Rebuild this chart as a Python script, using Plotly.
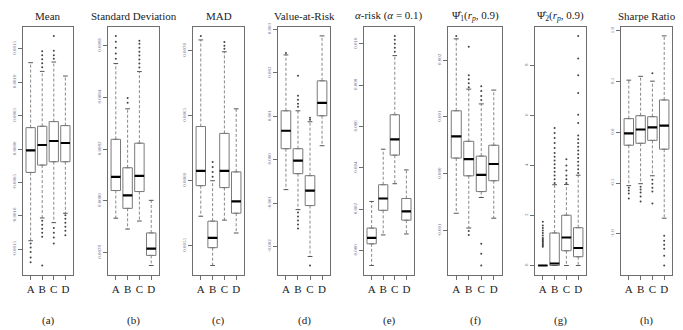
import plotly.graph_objects as go

cats = ["A", "B", "C", "D"]
titles = ["Mean", "Standard Deviation", "MAD", "Value-at-Risk",
          "<i>α</i>-risk (<i>α</i> = 0.1)",
          "Ψ̂<sub>1</sub>(<i>r<sub>p</sub></i>, 0.9)",
          "Ψ̂<sub>2</sub>(<i>r<sub>p</sub></i>, 0.9)",
          "Sharpe Ratio"]
sub_labels = ["(a)", "(b)", "(c)", "(d)", "(e)", "(f)", "(g)", "(h)"]

# ---- (a) Mean
mean_lo = [-0.00137, -0.00103, -0.00110, -0.00096]
mean_q1 = [-0.00035, -0.00024, -0.00019, -0.00019]
mean_med = [-0.00002, 0.00006, 0.00012, 0.00009]
mean_q3 = [0.00032, 0.00034, 0.00041, 0.00035]
mean_hi = [0.00129, 0.00116, 0.00130, 0.00109]
mean_out = [[-0.00141, -0.00147, -0.00154, -0.00162, -0.00169],
            [0.00146, 0.00140, 0.00134, 0.00128, 0.00122,
             -0.00107, -0.00113, -0.00119, -0.00125, -0.00131, -0.00174],
            [0.00169, 0.00147, 0.00140, 0.00135,
             -0.00118, -0.00125, -0.00132, -0.00141],
            [-0.00099, -0.00104, -0.00110, -0.00116, -0.00122, -0.00129]]
mean_ticks = [-0.0015, -0.0010, -0.0005, 0.0, 0.0005, 0.0010, 0.0015]
mean_ticklabels = ["-0.0015", "-0.0010", "-0.0005", "0.0000", "0.0005", "0.0010", "0.0015"]

# ---- (b) Standard Deviation
sd_lo = [0.007933, 0.007891, 0.007922, 0.007750]
sd_q1 = [0.008040, 0.007971, 0.008036, 0.007789]
sd_med = [0.008093, 0.008021, 0.008097, 0.007815]
sd_q3 = [0.008238, 0.008128, 0.008223, 0.007876]
sd_hi = [0.008531, 0.008356, 0.008500, 0.008002]
sd_out = [[0.008638, 0.008615, 0.008592, 0.008570, 0.008550],
          [0.008398, 0.008379],
          [0.008619, 0.008608, 0.008592, 0.008577, 0.008562, 0.008547, 0.008531, 0.008516],
          []]
sd_ticks = [0.0078, 0.0080, 0.0082, 0.0084, 0.0086]
sd_ticklabels = ["0.0078", "0.0080", "0.0082", "0.0084", "0.0086"]

# ---- (c) MAD
mad_lo = [0.005727, 0.005348, 0.005697, 0.005598]
mad_q1 = [0.005962, 0.005485, 0.005947, 0.005750]
mad_med = [0.006076, 0.005561, 0.006076, 0.005841]
mad_q3 = [0.006417, 0.005689, 0.006364, 0.006068]
mad_hi = [0.007083, 0.006000, 0.006992, 0.006553]
mad_out = [[0.007114],
           [0.006144, 0.006106, 0.006068, 0.006030],
           [0.007068, 0.007038, 0.007015],
           []]
mad_ticks = [0.0055, 0.0060, 0.0065, 0.0070]
mad_ticklabels = ["0.0055", "0.0060", "0.0065", "0.0070"]

# ---- (d) Value-at-Risk
var_lo = [-0.00069, -0.00115, -0.00223, 0.000322]
var_q1 = [0.000253, -0.000322, -0.001057, 0.001012]
var_med = [0.000667, -0.000023, -0.000713, 0.00131]
var_q3 = [0.001126, 0.000253, -0.000368, 0.001816]
var_hi = [0.002414, 0.001126, 0.000874, 0.002851]
var_out = [[0.00246],
           [0.001471, 0.00138, 0.001287, 0.001218, 0.001931,
            -0.001218, -0.00131, -0.001402, -0.001494, -0.001586],
           [0.000966, 0.00092, -0.002437],
           []]
var_ticks = [-0.002, -0.001, 0.0, 0.001, 0.002, 0.003]
var_ticklabels = ["-0.002", "-0.001", "0.000", "0.001", "0.002", "0.003"]

# ---- (e) alpha-risk
ar_lo = [-0.000714, 0.000762, 0.003238, 0.00081]
ar_q1 = [0.000333, 0.001952, 0.004619, 0.001476]
ar_med = [0.000619, 0.002524, 0.005381, 0.001905]
ar_q3 = [0.001095, 0.00319, 0.006572, 0.002524]
ar_hi = [0.002381, 0.004905, 0.009429, 0.003905]
ar_out = [[], [],
          [0.010381, 0.01019, 0.0100, 0.00981, 0.009619],
          []]
ar_ticks = [0.0, 0.002, 0.004, 0.006, 0.008, 0.010]
ar_ticklabels = ["0.000", "0.002", "0.004", "0.006", "0.008", "0.010"]

# ---- (f) Psi1
p1_lo = [-0.000693, -0.000953, -0.000416, -0.00078]
p1_q1 = [0.000277, -0.000035, -0.000312, -0.000121]
p1_med = [0.000659, 0.00026, -0.000017, 0.000173]
p1_q3 = [0.001109, 0.000572, 0.000312, 0.000503]
p1_hi = [0.002374, 0.00149, 0.00123, 0.001473]
p1_out = [[0.002426],
          [0.002236, 0.001733, 0.001664, 0.001594, 0.001525, -0.001005, -0.001074],
          [0.001542, 0.001456, 0.001369, 0.0013, -0.00123, -0.001404, -0.001612],
          []]
p1_ticks = [-0.001, 0.0, 0.001, 0.002]
p1_ticklabels = ["-0.001", "0.000", "0.001", "0.002"]

# ---- (g) Psi2
p2_lo = [0.0, 0.0, 0.0, 0.0]
p2_q1 = [0.0, 0.0, 0.59, 0.35]
p2_med = [0.0, 0.08, 1.12, 0.70]
p2_q3 = [0.0, 1.30, 2.01, 1.51]
p2_hi = [0.0, 3.23, 3.24, 3.61]
p2_out = [[0.75, 0.8, 0.85, 0.9, 0.95, 1.0, 1.05, 1.1, 1.2, 1.3, 1.4, 1.5, 1.6, 1.75],
          [3.3, 3.45, 3.6, 3.75, 3.9, 4.05, 4.2, 4.35, 4.5, 4.7, 4.9, 5.1, 5.3, 5.5],
          [3.3, 3.45, 3.6, 3.8, 4.0, 4.25],
          [3.7, 3.85, 4.0, 4.15, 4.3, 4.45, 4.6, 4.75, 4.9, 5.05, 5.2, 5.7,
           6.03, 6.9, 7.61, 8.28, 9.18]]
p2_ticks = [0, 2, 4, 6, 8]
p2_ticklabels = ["0", "2", "4", "6", "8"]

# ---- (h) Sharpe Ratio
sr_lo = [-0.524, -0.505, -0.427, -0.845]
sr_q1 = [-0.126, -0.107, -0.078, -0.165]
sr_med = [-0.010, 0.029, 0.049, 0.068]
sr_q3 = [0.136, 0.165, 0.155, 0.320]
sr_hi = [0.515, 0.553, 0.505, 0.951]
sr_out = [[-0.544, -0.573, -0.602, -0.65],
          [-0.534, -0.563, -0.592, -0.631, -0.68],
          [0.583, -0.466, -0.505, -0.544, -0.583, -0.699],
          [-1.019, -1.068, -1.107, -1.146, -1.214, -1.311]]
sr_ticks = [-1.0, -0.5, 0.0, 0.5, 1.0]
sr_ticklabels = ["-1.0", "-0.5", "0.0", "0.5", "1.0"]

panels = [
    (mean_lo, mean_q1, mean_med, mean_q3, mean_hi, mean_out, mean_ticks, mean_ticklabels),
    (sd_lo, sd_q1, sd_med, sd_q3, sd_hi, sd_out, sd_ticks, sd_ticklabels),
    (mad_lo, mad_q1, mad_med, mad_q3, mad_hi, mad_out, mad_ticks, mad_ticklabels),
    (var_lo, var_q1, var_med, var_q3, var_hi, var_out, var_ticks, var_ticklabels),
    (ar_lo, ar_q1, ar_med, ar_q3, ar_hi, ar_out, ar_ticks, ar_ticklabels),
    (p1_lo, p1_q1, p1_med, p1_q3, p1_hi, p1_out, p1_ticks, p1_ticklabels),
    (p2_lo, p2_q1, p2_med, p2_q3, p2_hi, p2_out, p2_ticks, p2_ticklabels),
    (sr_lo, sr_q1, sr_med, sr_q3, sr_hi, sr_out, sr_ticks, sr_ticklabels),
]

W, H = 683, 330
x_px = [(23, 73), (108, 159), (193, 244), (278, 330),
        (364, 414), (448, 502), (535, 586), (621, 672)]
y_top, y_bot = 23, 274

FRAME = "#6e6e6e"
BOXC = "#7a7a7a"
SERIF = "Liberation Serif, Times New Roman, serif"

fig = go.Figure()
pos = [1, 2, 3, 4]
hw = 0.4   # half box width
sw = 0.2   # half staple width

for i, (lo, q1, med, q3, hi, outs, tv, tt) in enumerate(panels):
    xa = "x" if i == 0 else f"x{i+1}"
    ya = "y" if i == 0 else f"y{i+1}"
    fig.add_trace(go.Box(x=pos, q1=q1, median=med, q3=q3, lowerfence=q1, upperfence=q3,
                         width=0.8, fillcolor="white", line=dict(color=BOXC, width=1),
                         xaxis=xa, yaxis=ya, showlegend=False, hoverinfo="skip"))
    wx, wy = [], []
    for p, a, b, c, d in zip(pos, lo, q1, q3, hi):
        wx += [p, p, None, p, p, None]
        wy += [c, d, None, b, a, None]
    fig.add_trace(go.Scatter(x=wx, y=wy, mode="lines", xaxis=xa, yaxis=ya,
                             line=dict(color=BOXC, width=0.9, dash="3px,2px"),
                             showlegend=False, hoverinfo="skip"))
    sx, sy = [], []
    for p, a, d in zip(pos, lo, hi):
        sx += [p - sw, p + sw, None, p - sw, p + sw, None]
        sy += [d, d, None, a, a, None]
    fig.add_trace(go.Scatter(x=sx, y=sy, mode="lines", xaxis=xa, yaxis=ya,
                             line=dict(color="#555555", width=1),
                             showlegend=False, hoverinfo="skip"))
    mx, my = [], []
    for p, m in zip(pos, med):
        mx += [p - hw, p + hw, None]
        my += [m, m, None]
    fig.add_trace(go.Scatter(x=mx, y=my, mode="lines", xaxis=xa, yaxis=ya,
                             line=dict(color="black", width=2.2),
                             showlegend=False, hoverinfo="skip"))
    ox, oy = [], []
    for p, o in zip(pos, outs):
        ox += [p] * len(o)
        oy += o
    fig.add_trace(go.Scatter(x=ox, y=oy, mode="markers", xaxis=xa, yaxis=ya,
                             marker=dict(color="#444444", size=2, symbol="circle"),
                             showlegend=False, hoverinfo="skip"))
    allv = list(lo) + list(hi) + [v for o in outs for v in o]
    vmin, vmax = min(allv), max(allv)
    pad = 0.04 * (vmax - vmin)
    x0, x1 = x_px[i]
    common = dict(showline=True, mirror=True, linecolor=FRAME, linewidth=1,
                  showgrid=False, zeroline=False, ticks="outside", ticklen=4,
                  tickcolor=FRAME, tickwidth=1)
    fig.layout[("xaxis" if i == 0 else f"xaxis{i+1}")] = dict(
        domain=[x0 / W, x1 / W], anchor=ya, range=[0.34, 4.66],
        tickvals=pos, ticktext=cats,
        tickfont=dict(family=SERIF, size=11, color="#222222"), **common)
    fig.layout[("yaxis" if i == 0 else f"yaxis{i+1}")] = dict(
        domain=[1 - y_bot / H, 1 - y_top / H], anchor=xa,
        range=[vmin - pad, vmax + pad], tickvals=tv, ticktext=tt, tickangle=-90,
        tickfont=dict(family=SERIF, size=5, color="#6a6a8c"), **common)
    cx = (x0 + x1) / 2 / W
    fig.add_annotation(text=titles[i], x=cx, y=1 - 12 / H, xref="paper", yref="paper",
                       showarrow=False, font=dict(family=SERIF, size=11, color="#222222"),
                       xanchor="center", yanchor="middle")
    fig.add_annotation(text=sub_labels[i], x=cx, y=1 - 320 / H, xref="paper", yref="paper",
                       showarrow=False, font=dict(family=SERIF, size=11, color="#222222"),
                       xanchor="center", yanchor="middle")

fig.update_layout(width=W, height=H, margin=dict(l=0, r=0, t=0, b=0),
                  paper_bgcolor="white", plot_bgcolor="white", showlegend=False,
                  hovermode=False)

fig.write_html("out.html", config={"displayModeBar": False, "staticPlot": True},
               post_script="document.body.style.margin='0px';document.body.style.overflow='hidden';")
